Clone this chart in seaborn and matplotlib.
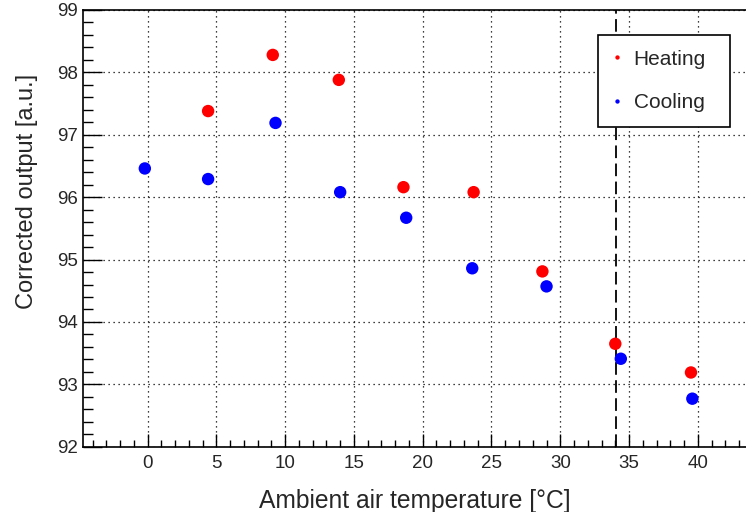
import numpy as np
import pandas as pd
import matplotlib
matplotlib.use("Agg")
import matplotlib.pyplot as plt
from matplotlib.ticker import MultipleLocator
import seaborn as sns

# values
heat_temp = [4.4, 9.1, 13.9, 18.6, 23.7, 28.7, 34.0, 39.5]
heat_out = [97.38, 98.28, 97.88, 96.16, 96.08, 94.81, 93.65, 93.19]
cool_temp = [-0.2, 4.4, 9.3, 14.0, 18.8, 23.6, 29.0, 34.4, 39.6]
cool_out = [96.46, 96.29, 97.19, 96.08, 95.67, 94.86, 94.57, 93.41, 92.77]
threshold_temp = 34.05

df = pd.DataFrame({
    "temp": heat_temp + cool_temp,
    "output": heat_out + cool_out,
    "mode": ["Heating"] * len(heat_temp) + ["Cooling"] * len(cool_temp),
})

sns.set_style("ticks")
plt.rcParams["font.family"] = ["Liberation Sans", "DejaVu Sans"]

fig = plt.figure(figsize=(7.46, 5.12), dpi=100)
ax = fig.add_axes([0.1117, 0.1275, 1.0 - 0.1117, 0.853])

sns.scatterplot(
    data=df, x="temp", y="output", hue="mode",
    hue_order=["Heating", "Cooling"],
    palette={"Heating": "#ff0000", "Cooling": "#0000ff"},
    s=80, linewidth=0, ax=ax, zorder=3,
)

ax.axvline(threshold_temp, color="black", linestyle=(0, (7, 3)), linewidth=1.3, zorder=2)

ax.set_xlim(-4.67, 43.5)
ax.set_ylim(92, 99)
ax.xaxis.set_major_locator(MultipleLocator(5))
ax.xaxis.set_minor_locator(MultipleLocator(1))
ax.yaxis.set_major_locator(MultipleLocator(1))
ax.yaxis.set_minor_locator(MultipleLocator(0.2))
ax.set_xticks(np.arange(0, 45, 5))

ax.grid(True, which="major", color="black", linestyle=(0, (1, 3)), linewidth=0.9)
ax.tick_params(axis="both", which="both", direction="in", labelsize=13.5, width=1, color="black")
ax.tick_params(axis="x", which="major", length=9.5, pad=6)
ax.tick_params(axis="x", which="minor", length=5)
ax.tick_params(axis="y", which="major", length=14, pad=4)
ax.tick_params(axis="y", which="minor", length=7)

for side in ["left", "bottom", "top"]:
    ax.spines[side].set_color("black")
    ax.spines[side].set_linewidth(1.2)
ax.spines["right"].set_visible(False)

ax.set_xlabel("Ambient air temperature [°C]", fontsize=17.7, labelpad=12)
ax.set_ylabel("Corrected output [a.u.]", fontsize=17)
ax.yaxis.set_label_coords(-0.068, 0.5855)

leg = ax.legend(
    loc="upper left", bbox_to_anchor=(0.8012, 0.9322, 0.1777, 0),
    bbox_transform=fig.transFigure, mode="expand", borderaxespad=0,
    frameon=True, fancybox=False, fontsize=15, markerscale=0.35,
    handlelength=0.43, handletextpad=0.57, labelspacing=1.16, borderpad=0.72,
    title=None,
)
leg.get_frame().set_edgecolor("black")
leg.get_frame().set_linewidth(1.2)
leg.get_frame().set_alpha(1)

fig.savefig("out.png", dpi=100)
